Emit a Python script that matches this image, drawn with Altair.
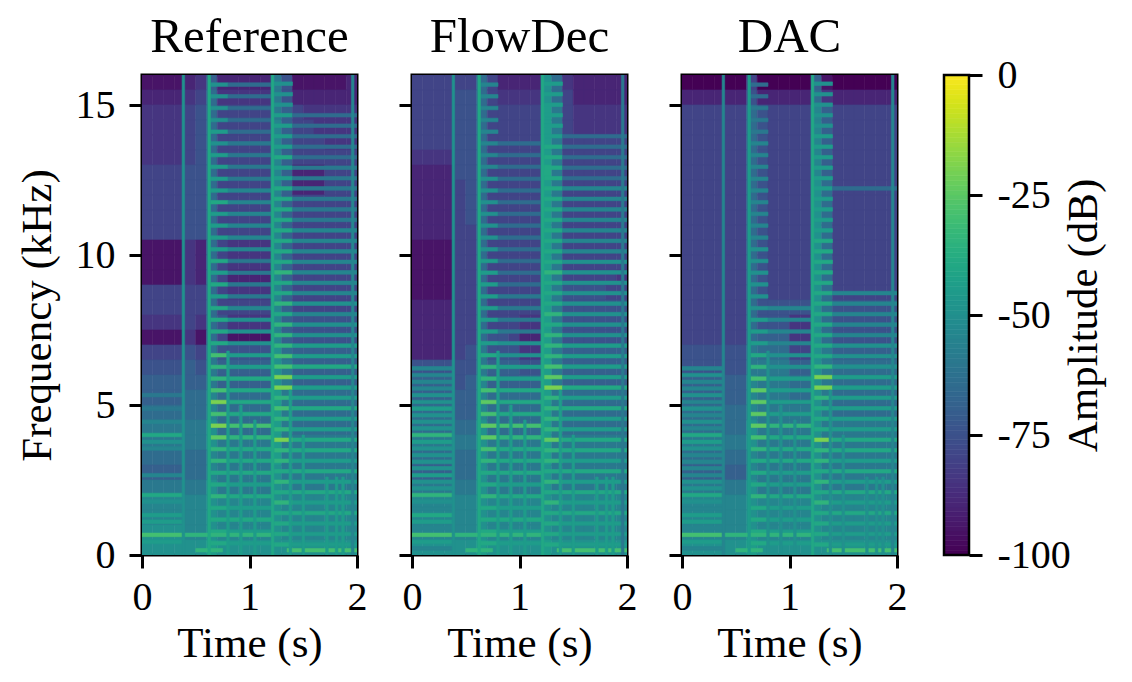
import altair as alt
import pandas as pd

FONT = "Liberation Serif"

# amplitude code: one character per 5 dB step, "0" = -100 dB ... "k" = 0 dB
CODE = "0123456789abcdefghijk"

TITLES = ["Reference", "FlowDec", "DAC"]
TIME_TICKS = [0, 1, 2]
FREQ_TICKS = [0, 5, 10, 15]

# background level: 20 columns of 0.1 s (0 -> 2 s), 32 rows of 0.5 kHz (16 kHz at the top)
REF_GRID = [
    "11112362222285111112",
    "22223473333385222222",
    "33334574444486433333",
    "33334574444496443333",
    "33334574444496444333",
    "33334574444496444444",
    "44445574444496222444",
    "44445574444496222444",
    "44445574444496444444",
    "44445574444496444444",
    "44445574444496444444",
    "11113274333396444444",
    "11113274333396444444",
    "11113274222296444444",
    "44444474333396444444",
    "44444474444496444444",
    "33334375333396555555",
    "11113174111196555555",
    "444454855555a7666666",
    "555565866666a8666666",
    "666666866666a8666666",
    "666677977777b8777777",
    "777777977777b8777777",
    "888888a77777b8777777",
    "888888a88888b8888888",
    "777777988888b8888888",
    "666677988888a8888888",
    "888888a88888a9888888",
    "999999a99999a9999999",
    "999999a99999a9999999",
    "aaaa99a99999a9999999",
    "aaaaaabaaaaaaaaaaaaa",
]

FLOW_GRID = [
    "444444742222a7322222",
    "444455743333a7422222",
    "444455744444b8433333",
    "444455744444b8433333",
    "444455744444b8444444",
    "333355744444b8444444",
    "222255744444c8444444",
    "222245744444b8444444",
    "222245744444b8444444",
    "222245744444b8444444",
    "222244744444b8444444",
    "111144744444b8444444",
    "111144744444b8444444",
    "111144744444b8444443",
    "111144744444b8555544",
    "222244744444b8555555",
    "222244744433b8555555",
    "222244755422b8555555",
    "222245855533b8666666",
    "555555866655b8666666",
    "666656966666b8666666",
    "666666977777b8777777",
    "777766977777b8777777",
    "777777a77777b8777777",
    "888888a88888b8888888",
    "777777a88888b8888888",
    "666677a88888a8888888",
    "888888a88888a8888888",
    "999999a99999a9999999",
    "999999a99999a9999999",
    "999999a99999a9999999",
    "aaaaaabaaaaabaaaaaaa",
]

DAC_GRID = [
    "00000040000061000000",
    "22222252222273222222",
    "44444475444496444444",
    "44444475444496444444",
    "44444475444496444444",
    "44444475444496444444",
    "44444475444496444444",
    "444444754444a7444444",
    "444444754444a7444444",
    "444444754444a7444444",
    "444444754444a7444444",
    "444444754444a7444444",
    "444444754444a7444444",
    "444444754444a7444444",
    "444444754444a7444444",
    "444444755555a7555555",
    "444444755533a7555555",
    "444444766633a7555555",
    "555555877744a8666666",
    "555555888866a8777777",
    "666666988877a8777777",
    "666666988877a8777777",
    "777777988888a8777777",
    "777777a88888a8888888",
    "888888a88888a8888888",
    "777777988888a8888888",
    "666666988888a8888888",
    "888888a88888a8888888",
    "999999a99999a9999999",
    "999999a99999a9999999",
    "999999a99999a9999999",
    "aaaaaabaaaaaaaaaaaaa",
]

# harmonic lines (kHz) of the notes, and the time spans (s) where they sound
NOTE_A_KHZ = [0.22, 0.44, 0.67, 0.89, 1.11, 1.33, 1.55, 1.78, 2.0, 2.22,
              2.44, 2.66, 2.89, 3.11, 3.33, 3.55, 3.77, 4.0, 4.22, 4.44,
              4.66, 4.88, 5.1, 5.33, 5.55, 5.77, 6.0, 6.22]
NOTE_B_KHZ = [0.39, 0.78, 1.18, 1.57, 1.96, 2.35, 2.74, 3.14, 3.53, 3.92,
              4.31, 4.7, 5.1, 5.49, 5.88, 6.27, 6.66, 7.06, 7.45, 7.84,
              8.23, 8.62, 9.02, 9.41, 9.8, 10.19, 10.58, 10.98, 11.37, 11.76,
              12.15, 12.54, 12.94, 13.33, 13.72, 14.11, 14.5, 14.9, 15.29, 15.68]
NOTE_C_KHZ = [0.35, 0.7, 1.05, 1.4, 1.75, 2.09, 2.44, 2.79, 3.14, 3.49,
              3.84, 4.19, 4.54, 4.89, 5.24, 5.58, 5.93, 6.28, 6.63, 6.98,
              7.33, 7.68, 8.03, 8.38, 8.73, 9.07, 9.42, 9.77, 10.12, 10.47,
              10.82, 11.17, 11.52, 11.87, 12.22, 12.56, 12.91, 13.26, 13.61, 13.96,
              14.31, 14.66, 15.01, 15.36, 15.71]
NOTE_SPANS = [(0.0, 0.38), (0.64, 0.80), (0.80, 1.20), (1.23, 1.40), (1.40, 2.0)]
NOTE_KHZ = [NOTE_A_KHZ, NOTE_B_KHZ, NOTE_B_KHZ, NOTE_C_KHZ, NOTE_C_KHZ]

# line levels per harmonic, "." = not visible
REF_NOTES = [
    ".be.bb.ac..9...9ac.9.8.8....",
    "ccccdccddf" "gegeddeccc" "cbcbcbbbbc" "bbbbabaaaa",
    "bbcbcbcccd" "eccccbbaaa" "9888899999" "9888877777",
    "ccccdcdcdd" "gddedggeed" "ddcdccdccc" "cccccbbcbb" "bbaaa",
    "bbbcbcbcbc" "cbbcbbbcbb" "aa9a999999" "9888888777" "77...",
]
FLOW_NOTES = [
    "9be9bc9adaabaaaabdaaabaa9999",
    "ccccdccdef" "fefeddcbbb" "bbbbbaaaaa" "aa99999999",
    "bbcbcbcccd" "ecccbbaa88" "8877777777" "77777.....",
    "ccccdcdcdd" "fddddgfedd" "dcdcccdccc" "cccccccccb" "bbbbb",
    "bbbcbcbcbc" "cbbcbcbbbb" "aaaaaaaa99" "9999977777" ".....",
]
DAC_NOTES = [
    "9be9bb9acaa9999abc9a9a9a99a9",
    "ccccdcccde" "ffffedcbbb" "aaaaaa9999" "9999988877",
    "bbbbcbbccc" "dbbbbaa999" "9........." "..........",
    "ccccdcdcdd" "gcccdggdcc" "cccccccccc" "bbbbbbbbbb" "aaaaa",
    "bbbcbcbcbc" "cbbbbbbaaa" "99999....." "....7....." ".....",
]

# long lines: (kHz, start s, end s)
LONG_LINES = [(0.67, 0.38, 1.20), (0.16, 0.50, 0.75), (0.16, 1.35, 2.0)]
REF_LONG = "dde"
FLOW_LONG = "dde"
DAC_LONG = "dde"

# onsets: (s, from kHz, to kHz)
ONSETS = [(0.385, 0, 16), (0.625, 0, 16), (1.215, 0, 16), (1.96, 0, 16),
          (0.80, 0, 6.8), (0.92, 0, 5.0), (1.05, 0, 4.5), (1.38, 0, 5.5),
          (1.50, 0, 4.0), (1.72, 0, 2.6), (1.81, 0, 2.6), (1.87, 0, 2.6)]
REF_ONSETS = "acc9bbbbbbbb"
FLOW_ONSETS = "acc8bbbbbbbb"
DAC_ONSETS = "9bc9aaaaaaaa"

CB_DB = list(range(-100, 0))
CB_TICKS = [-100, -75, -50, -25, 0]


def level(ch):
    return CODE.index(ch) * 5 - 100


def cells(grid, notes, longs, onsets):
    assert len(grid) == 32 and all(len(g) == 20 for g in grid)
    rows = []
    for r, line in enumerate(grid):
        for c, ch in enumerate(line):
            rows.append({"t0": c / 10, "t1": (c + 1) / 10,
                         "f0": 16 - (r + 1) / 2, "f1": 16 - r / 2, "db": level(ch)})
    for (t0, t1), freqs, marks in zip(NOTE_SPANS, NOTE_KHZ, notes):
        assert len(freqs) == len(marks), marks
        for f, ch in zip(freqs, marks):
            if ch != ".":
                rows.append({"t0": t0, "t1": t1, "f0": f - 0.06, "f1": f + 0.06, "db": level(ch)})
    for (f, t0, t1), ch in zip(LONG_LINES, longs):
        rows.append({"t0": t0, "t1": t1, "f0": f - 0.06, "f1": f + 0.06, "db": level(ch)})
    for (t, f0, f1), ch in zip(ONSETS, onsets):
        rows.append({"t0": t - 0.012, "t1": t + 0.012, "f0": f0, "f1": f1, "db": level(ch)})
    return pd.DataFrame(rows)


COLOR = alt.Scale(scheme="viridis", domain=[-100, 0], clamp=True)


def panel(df, title, first):
    yax = {"values": FREQ_TICKS, "labels": first, "title": "Frequency (kHz)" if first else ""}
    return alt.Chart(df).mark_rect(clip=True, strokeWidth=0.6).encode(
        x=alt.X("t0:Q", scale=alt.Scale(domain=[0, 2], nice=False),
                axis=alt.Axis(values=TIME_TICKS, title="Time (s)", labelOverlap=False,
                              labelExpr="'' + round(datum.value)")),
        x2="t1:Q",
        y=alt.Y("f0:Q", scale=alt.Scale(domain=[0, 16], nice=False), axis=alt.Axis(**yax)),
        y2="f1:Q",
        color=alt.Color("db:Q", scale=COLOR, legend=None),
        stroke=alt.Stroke("db:Q", scale=COLOR, legend=None),
    ).properties(width=215, height=480, title=title)


p1 = panel(cells(REF_GRID, REF_NOTES, REF_LONG, REF_ONSETS), TITLES[0], True)
p2 = panel(cells(FLOW_GRID, FLOW_NOTES, FLOW_LONG, FLOW_ONSETS), TITLES[1], False)
p3 = panel(cells(DAC_GRID, DAC_NOTES, DAC_LONG, DAC_ONSETS), TITLES[2], False)

# colour bar: its view is 17 px wide so the right axis sits on the bar's edge;
# the bar itself reaches 8 px further left to keep the same gap as the panels
cb_scale = alt.Scale(domain=[-100, 0], nice=False)
cb_axis = alt.Axis(orient="right", values=CB_TICKS,
                   labelExpr="datum.value < 0 ? '-' + (-datum.value) : '' + datum.value",
                   title="Amplitude (dB)", titleAngle=270, titleBaseline="top",
                   labelPadding=15, titlePadding=-8)
cb_df = pd.DataFrame({"db": CB_DB, "db_top": [v + 1 for v in CB_DB]})
cb_fill = alt.Chart(cb_df).mark_rect(strokeWidth=0.6).encode(
    x=alt.value(-8), x2=alt.value(17),
    y=alt.Y("db:Q", scale=cb_scale, axis=cb_axis),
    y2="db_top:Q",
    color=alt.Color("db:Q", scale=COLOR, legend=None),
    stroke=alt.Stroke("db:Q", scale=COLOR, legend=None),
)
cb_frame = alt.Chart(pd.DataFrame({"lo": [CB_TICKS[0]], "hi": [CB_TICKS[-1]]})).mark_rect(
    filled=False, stroke="black", strokeWidth=2.5
).encode(
    x=alt.value(-8), x2=alt.value(17),
    y=alt.Y("lo:Q", scale=cb_scale, title="Amplitude (dB)"),
    y2="hi:Q",
)
colorbar = alt.layer(cb_fill, cb_frame).properties(
    width=17, height=480, view=alt.ViewBackground(stroke="transparent")
)

chart = alt.hconcat(p1, p2, p3, colorbar, spacing=55, bounds="flush").properties(
    padding={"left": 6, "top": 3, "right": 5, "bottom": 5}
).configure_axis(
    domain=False, grid=False, tickColor="black", tickWidth=3, tickSize=13,
    labelFont=FONT, labelFontSize=40, labelColor="black", labelFlush=False,
    titleFont=FONT, titleFontSize=43, titleFontWeight="normal", titleColor="black",
    zindex=1,
).configure_axisX(labelPadding=9, titlePadding=5).configure_axisY(
    labelPadding=14, titlePadding=16
).configure_view(stroke="black", strokeWidth=3).configure_title(
    font=FONT, fontSize=49, fontWeight="normal", color="black", offset=13,
    baseline="alphabetic", frame="group", anchor="middle",
)

chart.save("out.html", embed_options={"renderer": "svg", "actions": False})
